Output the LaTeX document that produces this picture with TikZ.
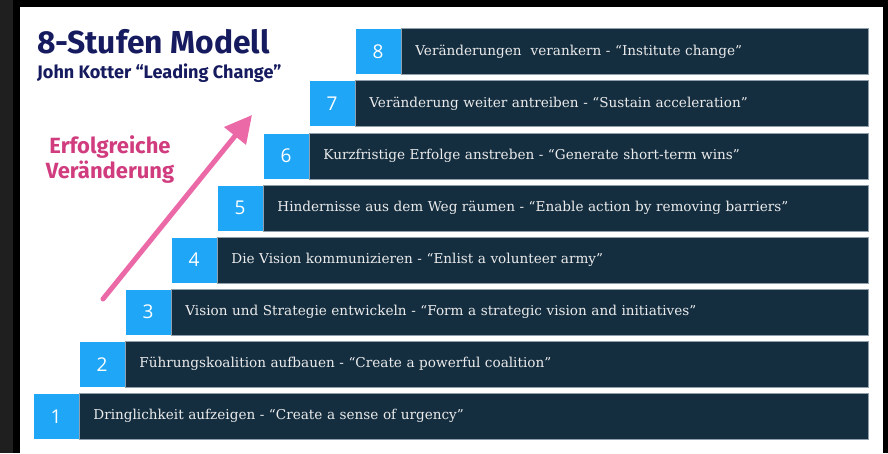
\documentclass[tikz,border=0pt]{standalone}
\usepackage{fontspec}
\setmainfont{DejaVu Serif}
\newfontfamily\headfont{Fira Sans}
\newfontfamily\numfont{Open Sans}
\usepackage{tikz}
\usetikzlibrary{arrows.meta}

\definecolor{titleblue}{HTML}{151B5E}
\definecolor{pinktext}{HTML}{D03C7E}
\definecolor{pinkarrow}{HTML}{EC69A8}
\definecolor{stepblue}{HTML}{1FA6F7}
\definecolor{stepdark}{HTML}{142E40}
\definecolor{edgegray}{HTML}{8FA0AC}

\tikzset{
  numbox/.style={fill=stepblue, draw=white, line width=0.6pt, text=white,
    minimum width=45.5pt, minimum height=46pt, inner sep=0pt, anchor=north west,
    font=\numfont\fontsize{19}{19}\selectfont},
  stepbox/.style={fill=stepdark, draw=edgegray, line width=0.6pt, text=white!92!black,
    minimum height=46pt, inner xsep=14pt, inner ysep=0pt, anchor=north west, align=left,
    font=\fontsize{13.6}{15}\selectfont},
  risearrow/.style={pinkarrow, line width=5pt, line cap=round,
    -{Triangle[length=27pt,width=27pt]}}
}

\begin{document}
\begin{tikzpicture}[x=1pt,y=-1pt]
\useasboundingbox (0,0) rectangle (888,453);
% frame
\fill[black!88] (0,0) rectangle (888,453);
\fill[black] (13,0) rectangle (888,453);
\fill[white] (20,7) rectangle (883,453);

% title
\node[anchor=base west, inner sep=0pt, text=titleblue, font=\headfont\bfseries\fontsize{31.8}{32}\selectfont] (title) at (37,53) {8-Stufen Modell};
\node[anchor=base west, inner sep=0pt, text=titleblue, font=\headfont\bfseries\fontsize{18.1}{18}\selectfont] (subtitle) at (37,78) {John Kotter “Leading Change”};

% steps
\foreach \i/\txt in {
  1/{Dringlichkeit aufzeigen - “Create a sense of urgency”},
  2/{Führungskoalition aufbauen - “Create a powerful coalition”},
  3/{Vision und Strategie entwickeln - “Form a strategic vision and initiatives”},
  4/{Die Vision kommunizieren - “Enlist a volunteer army”},
  5/{Hindernisse aus dem Weg räumen - “Enable action by removing barriers”},
  6/{Kurzfristige Erfolge anstreben - “Generate short-term wins”},
  7/{Veränderung weiter antreiben - “Sustain acceleration”},
  8/{Veränderungen\ \ verankern - “Institute change”}}{
  \pgfmathsetmacro{\stepx}{33+(\i-1)*46}
  \pgfmathsetmacro{\stepy}{393-(\i-1)*52.1}
  \pgfmathsetmacro{\stepw}{867-\stepx-45.5-28}
  \node[numbox] (num\i) at (\stepx,\stepy) {\i};
  \node[stepbox, text width=\stepw pt] (step\i) at (num\i.north east) {\txt};
}

% arrow
\coordinate (tail) at (103,299);
\coordinate (tip) at (252,115);
\draw[risearrow] (tail) -- (tip);
\node[align=center, inner sep=0pt, text=pinktext, font=\headfont\bfseries\fontsize{22}{25}\selectfont] (result) at (110,160) {Erfolgreiche\\Veränderung};
\end{tikzpicture}
\end{document}
